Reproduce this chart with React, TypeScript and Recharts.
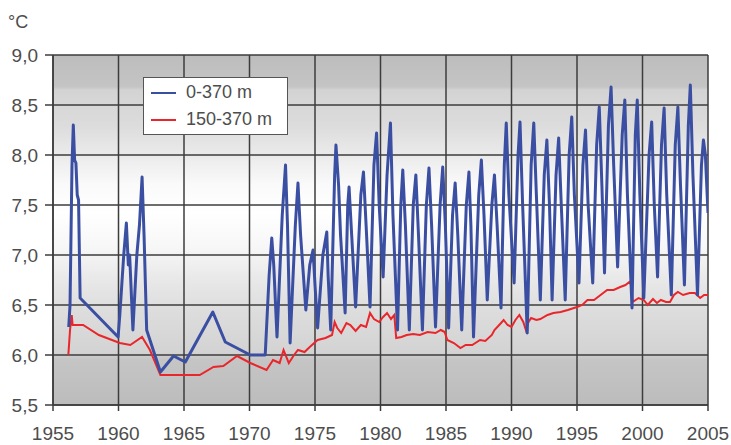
import { CartesianGrid, Line, LineChart, XAxis, YAxis } from "recharts";

const YEAR_TICKS = [1955, 1960, 1965, 1970, 1975, 1980, 1985, 1990, 1995, 2000, 2005];
const TEMP_TICKS = [5.5, 6.0, 6.5, 7.0, 7.5, 8.0, 8.5, 9.0];

// 0-370 m layer: [year, °C]
const LAYER_0_370: [number, number][] = [
  [1956.2, 6.28], [1956.3, 6.5], [1956.45, 7.9], [1956.55, 8.3], [1956.65, 7.95],
  [1956.75, 7.92], [1956.85, 7.6], [1956.95, 7.55], [1957.07, 6.57], [1959.97, 6.18],
  [1960.1, 6.4], [1960.4, 7.0], [1960.6, 7.32], [1960.75, 6.9], [1960.85, 7.0],
  [1961.1, 6.25], [1961.4, 7.0], [1961.6, 7.3], [1961.8, 7.78], [1961.95, 7.2],
  [1962.15, 6.25], [1963.2, 5.83], [1964.2, 5.99], [1965.1, 5.93], [1967.2, 6.43],
  [1968.15, 6.13], [1970.06, 6.0], [1971.2, 6.0],
  [1971.5, 6.8], [1971.7, 7.17], [1971.85, 6.9], [1972.1, 6.18],
  [1972.5, 7.4], [1972.75, 7.9], [1972.9, 7.3], [1973.1, 6.12],
  [1973.5, 7.3], [1973.7, 7.72], [1973.9, 7.2], [1974.3, 6.45],
  [1974.6, 6.9], [1974.85, 7.05], [1975.0, 6.7], [1975.2, 6.27],
  [1975.6, 7.0], [1975.9, 7.23], [1976.0, 6.8], [1976.2, 6.25],
  [1976.5, 7.8], [1976.6, 8.1], [1976.8, 7.7], [1976.95, 7.2], [1977.3, 6.42],
  [1977.5, 7.5], [1977.6, 7.68], [1977.8, 7.2], [1978.1, 6.48],
  [1978.5, 7.6], [1978.7, 7.83], [1978.9, 7.3], [1979.2, 6.48],
  [1979.5, 7.9], [1979.7, 8.22], [1979.9, 7.5], [1980.2, 6.78],
  [1980.5, 7.8], [1980.76, 8.32], [1980.95, 7.4], [1981.3, 6.25],
  [1981.55, 7.5], [1981.7, 7.85], [1981.9, 7.3], [1982.2, 6.25],
  [1982.5, 7.5], [1982.7, 7.8], [1982.9, 7.2], [1983.2, 6.25],
  [1983.5, 7.5], [1983.7, 7.87], [1983.9, 7.3], [1984.2, 6.28],
  [1984.55, 7.5], [1984.75, 7.88], [1984.95, 7.3], [1985.2, 6.27],
  [1985.5, 7.4], [1985.7, 7.72], [1985.9, 7.2], [1986.2, 6.25],
  [1986.55, 7.5], [1986.75, 7.83], [1986.9, 7.3], [1987.1, 6.18],
  [1987.5, 7.6], [1987.7, 7.95], [1987.9, 7.4], [1988.15, 6.55],
  [1988.5, 7.5], [1988.7, 7.8], [1988.9, 7.3], [1989.2, 6.47],
  [1989.45, 7.9], [1989.6, 8.32], [1989.8, 7.6], [1990.2, 6.72],
  [1990.5, 8.0], [1990.65, 8.33], [1990.85, 7.5], [1991.2, 6.22],
  [1991.5, 7.9], [1991.7, 8.32], [1991.9, 7.6], [1992.2, 6.55],
  [1992.5, 7.8], [1992.7, 8.15], [1992.9, 7.5], [1993.1, 6.55],
  [1993.4, 7.8], [1993.6, 8.17], [1993.8, 7.5], [1994.1, 6.55],
  [1994.4, 8.0], [1994.6, 8.38], [1994.8, 7.6], [1995.15, 6.72],
  [1995.45, 7.9], [1995.65, 8.25], [1995.85, 7.5], [1996.2, 6.72],
  [1996.5, 8.1], [1996.7, 8.48], [1996.9, 7.7], [1997.1, 6.82],
  [1997.4, 8.3], [1997.6, 8.68], [1997.8, 7.9], [1998.1, 6.88],
  [1998.45, 8.2], [1998.65, 8.55], [1998.85, 7.6], [1999.2, 6.47],
  [1999.45, 8.2], [1999.6, 8.55], [1999.8, 7.6], [2000.1, 6.57],
  [2000.5, 8.0], [2000.7, 8.33], [2000.9, 7.5], [2001.15, 6.78],
  [2001.45, 8.1], [2001.65, 8.47], [2001.85, 7.6], [2002.2, 6.6],
  [2002.5, 8.1], [2002.7, 8.48], [2002.9, 7.7], [2003.2, 6.7],
  [2003.5, 8.3], [2003.65, 8.7], [2003.85, 7.8], [2004.2, 6.6],
  [2004.5, 7.9], [2004.65, 8.15], [2004.8, 8.0], [2005.0, 7.42],
];

// 150-370 m layer: [year, °C]
const LAYER_150_370: [number, number][] = [
  [1956.17, 6.0], [1956.3, 6.25], [1956.43, 6.4], [1956.5, 6.3], [1957.3, 6.3],
  [1958.5, 6.2], [1960.1, 6.12], [1960.9, 6.1], [1961.8, 6.18], [1962.4, 6.05],
  [1963.2, 5.8], [1966.2, 5.8], [1967.25, 5.88], [1968.0, 5.89], [1969.05, 5.99],
  [1970.06, 5.92], [1971.3, 5.85], [1971.8, 5.95], [1972.3, 5.92], [1972.6, 6.05],
  [1973.0, 5.92], [1973.4, 6.0], [1973.7, 6.05], [1974.2, 6.03], [1974.6, 6.08],
  [1975.2, 6.15], [1975.8, 6.17], [1976.3, 6.2], [1976.5, 6.33], [1976.7, 6.27],
  [1977.0, 6.22], [1977.4, 6.32], [1977.7, 6.3], [1978.1, 6.24], [1978.5, 6.3],
  [1978.9, 6.28], [1979.2, 6.42], [1979.5, 6.36], [1979.9, 6.33], [1980.2, 6.38],
  [1980.5, 6.42], [1980.8, 6.36], [1981.05, 6.4], [1981.2, 6.17], [1981.6, 6.18],
  [1982.0, 6.2], [1982.5, 6.21], [1983.0, 6.2], [1983.6, 6.23], [1984.2, 6.22],
  [1984.6, 6.25], [1984.9, 6.23], [1985.1, 6.15], [1985.6, 6.12], [1986.1, 6.07],
  [1986.5, 6.1], [1987.0, 6.1], [1987.6, 6.15], [1988.0, 6.14], [1988.5, 6.2],
  [1988.7, 6.25], [1989.2, 6.32], [1989.4, 6.35], [1989.7, 6.3], [1990.0, 6.28],
  [1990.3, 6.35], [1990.6, 6.4], [1990.9, 6.33], [1991.1, 6.25], [1991.3, 6.33],
  [1991.5, 6.37], [1991.9, 6.35], [1992.2, 6.36], [1992.75, 6.4], [1993.2, 6.42],
  [1993.75, 6.43], [1994.3, 6.45], [1995.0, 6.48], [1995.4, 6.5], [1995.8, 6.55],
  [1996.3, 6.55], [1996.8, 6.6], [1997.3, 6.65], [1997.8, 6.65], [1998.3, 6.68],
  [1998.7, 6.7], [1999.0, 6.73], [1999.15, 6.7], [1999.25, 6.53], [1999.7, 6.57],
  [2000.1, 6.55], [2000.4, 6.5], [2000.8, 6.56], [2001.1, 6.52], [2001.4, 6.55],
  [2001.8, 6.53], [2002.1, 6.53], [2002.4, 6.6], [2002.7, 6.63], [2003.1, 6.6],
  [2003.6, 6.62], [2004.0, 6.62], [2004.4, 6.57], [2004.7, 6.6], [2005.0, 6.6],
];

const BLUE = "#3b4fa2";
const RED = "#e8262b";
const INK = "#4d4d4d";
const GRID = "#3c3c3c";
const FONT = "'Liberation Sans', Arial, sans-serif";

const toRows = (pts: [number, number][]) => pts.map(([year, t]) => ({ year, t }));
const comma = (v: number) => v.toFixed(1).replace(".", ",");

function LegendBox() {
  const row = (color: string, label: string) => (
    <div style={{ display: "flex", alignItems: "center", height: 27 }}>
      <span style={{ width: 25, height: 2, background: color, marginRight: 10, marginLeft: 7 }} />
      <span>{label}</span>
    </div>
  );
  return (
    <div
      style={{
        position: "absolute",
        left: 143,
        top: 77,
        width: 145,
        height: 58,
        boxSizing: "border-box",
        border: "1px solid #555",
        background: "#fff",
        fontFamily: FONT,
        fontSize: 18,
        color: INK,
        paddingTop: 1,
      }}
    >
      {row(BLUE, "0-370 m")}
      {row(RED, "150-370 m")}
    </div>
  );
}

export default function App() {
  const tick = { fontFamily: FONT, fontSize: 19, fill: INK };
  return (
    <div style={{ position: "fixed", left: 0, top: 0, width: 731, height: 445, background: "#fff" }}>
      <LineChart width={731} height={445} margin={{ top: 55, right: 23, bottom: 0, left: 0 }}>
        <defs>
          <linearGradient id="plotBg" x1="0" y1="0" x2="0" y2="1">
            <stop offset="0" stopColor="#bdbdbd" />
            <stop offset="0.09" stopColor="#c4c4c4" />
            <stop offset="0.1" stopColor="#d3d3d3" />
            <stop offset="0.2" stopColor="#dcdcdc" />
            <stop offset="0.29" stopColor="#ebebeb" />
            <stop offset="0.37" stopColor="#fafafa" />
            <stop offset="0.45" stopColor="#ffffff" />
            <stop offset="0.55" stopColor="#f7f7f7" />
            <stop offset="0.63" stopColor="#eaeaea" />
            <stop offset="0.73" stopColor="#dddddd" />
            <stop offset="0.85" stopColor="#d3d3d3" />
            <stop offset="0.87" stopColor="#c5c5c5" />
            <stop offset="1" stopColor="#bcbcbc" />
          </linearGradient>
        </defs>
        <CartesianGrid fill="url(#plotBg)" fillOpacity={1} stroke={GRID} strokeWidth={1.5} />
        <XAxis
          type="number"
          dataKey="year"
          domain={[1955, 2005]}
          ticks={YEAR_TICKS}
          interval={0}
          allowDataOverflow
          height={40}
          tick={tick}
          tickSize={6}
          tickMargin={16}
          tickLine={{ stroke: GRID, strokeWidth: 1.5 }}
          axisLine={{ stroke: GRID, strokeWidth: 1.5 }}
        />
        <YAxis
          type="number"
          domain={[5.5, 9.0]}
          ticks={TEMP_TICKS}
          interval={0}
          width={53}
          tickFormatter={comma}
          tick={tick}
          tickSize={8}
          tickMargin={7}
          tickLine={{ stroke: GRID, strokeWidth: 1.5 }}
          axisLine={{ stroke: GRID, strokeWidth: 1.5 }}
        />
        <Line
          data={toRows(LAYER_150_370)}
          dataKey="t"
          type="linear"
          stroke={RED}
          strokeWidth={2}
          dot={false}
          isAnimationActive={false}
        />
        <Line
          data={toRows(LAYER_0_370)}
          dataKey="t"
          type="linear"
          stroke={BLUE}
          strokeWidth={3}
          strokeLinejoin="round"
          dot={false}
          isAnimationActive={false}
        />
      </LineChart>
      <div style={{ position: "absolute", left: 8, top: 12, fontFamily: FONT, fontSize: 18, color: INK }}>
        °C
      </div>
      <LegendBox />
    </div>
  );
}
